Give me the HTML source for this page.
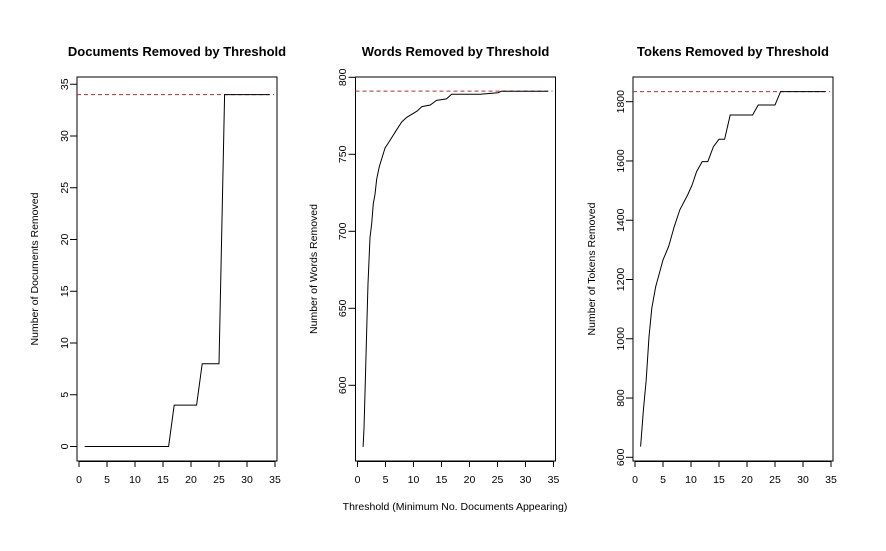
<!DOCTYPE html>
<html><head><meta charset="utf-8"><style>
body{margin:0;background:#fff}
svg{display:block;font-family:"Liberation Sans",Arial,sans-serif}
</style></head><body>
<svg id="c" width="886" height="551" xmlns="http://www.w3.org/2000/svg"></svg>
<script>
// Panel 1: documents removed
const docX = [1,2,3,4,5,6,7,8,9,10,11,12,13,14,15,16,17,18,19,20,21,22,23,24,25,26,27,28,29,30,31,32,33,34];
const docY = [0,0,0,0,0,0,0,0,0,0,0,0,0,0,0,0,4,4,4,4,4,8,8,8,8,34,34,34,34,34,34,34,34,34];
const docMax = 34;
const docTicks = [0,5,10,15,20,25,30,35];
// Panel 2: words removed
const wordX = [1,1.16,1.34,1.52,1.7,1.88,2.05,2.23,2.53,2.83,3.13,3.42,3.9,4.32,4.91,5.8,7,7.9,8.8,10.6,11.5,13,14.1,15.9,16.8,21.3,21.9,25.1,25.7,34];
const wordY = [560,572,595,619,643,666,681,696,705,718,724,734,742,747,754,759,766,771,774,778,781,782,785,786,789,789,789,790,791,791];
const wordMax = 791;
const wordTicks = [600,650,700,750,800];
// Panel 3: tokens removed
const tokX = [1,1.5,2,2.5,3,3.7,4.2,5,6,7,8,9.4,10.2,11,12,13,14,15,16,17,21,22,25,26,34];
const tokY = [636,760,861,1007,1103,1176,1210,1266,1311,1378,1435,1485,1519,1564,1598,1598,1648,1673,1673,1755,1755,1789,1789,1834,1834];
const tokMax = 1834;
const tokTicks = [600,800,1000,1200,1400,1600,1800];
const xTicks = [0,5,10,15,20,25,30,35];

const svg = document.getElementById('c');
const NS = 'http://www.w3.org/2000/svg';
function mk(tag, attrs, parent){const e=document.createElementNS(NS,tag);for(const k in attrs)e.setAttribute(k,attrs[k]);(parent||svg).appendChild(e);return e;}

const TOP=77, BOT=461;
const panels = [
 {key:'documents', left:77, xs:docX, ys:docY, max:docMax, ticks:docTicks, ymin:-1.4, ymax:35.7, title:'Documents Removed by Threshold', ylab:'Number of Documents Removed', ylabX:34, tickLabX:64},
 {key:'words', left:355.5, xs:wordX, ys:wordY, max:wordMax, ticks:wordTicks, ymin:800-(461-77.3)/77*50, ymax:800+0.3/77*50, title:'Words Removed by Threshold', ylab:'Number of Words Removed', ylabX:313, tickLabX:342},
 {key:'tokens', left:633, xs:tokX, ys:tokY, max:tokMax, ticks:tokTicks, ymin:600-(461-457.3)/0.2963, ymax:1800+(101.7-77)/0.2963, title:'Tokens Removed by Threshold', ylab:'Number of Tokens Removed', ylabX:591, tickLabX:620}
];

panels.forEach(p=>{
  const g = mk('g',{});
  
  
  const xS = v => p.left + 2 + v*5.6;
  const yS = v => BOT - (v - p.ymin)/(p.ymax - p.ymin)*(BOT-TOP);
  const box = mk('rect',{x:p.left,y:TOP,width:200,height:BOT-TOP,fill:'none',stroke:'#000','stroke-width':1},g);
  
  
  const t = mk('text',{x:p.left+100,y:56,'text-anchor':'middle','font-size':'13','font-weight':'bold'},g);
  t.textContent = p.title;
  
  
  xTicks.forEach(v=>{
    mk('line',{x1:xS(v),x2:xS(v),y1:BOT,y2:BOT+6,stroke:'#000'},g);
    const l = mk('text',{x:xS(v),y:483,'text-anchor':'middle','font-size':'10.5'},g);
    l.textContent = v;
    
    
  });
  mk('line',{x1:xS(0),x2:xS(35),y1:BOT+0.5,y2:BOT+0.5,stroke:'#000'},g);
  p.ticks.forEach(v=>{
    mk('line',{x1:p.left-7,x2:p.left,y1:yS(v),y2:yS(v),stroke:'#000'},g);
    const l = mk('text',{x:p.tickLabX+4,y:yS(v),'text-anchor':'middle','font-size':'10.5',transform:`rotate(-90 ${p.tickLabX+4} ${yS(v)})`},g);
    l.textContent = v;
    
    
  });
  const yl = mk('text',{x:p.ylabX+4,y:269,'text-anchor':'middle','font-size':'10.5',transform:`rotate(-90 ${p.ylabX+4} 269)`},g);
  yl.textContent = p.ylab;
  
  
  const dl = mk('line',{x1:p.left,x2:p.left+197,y1:yS(p.max),y2:yS(p.max),stroke:'#a33','stroke-dasharray':'4,3','stroke-width':1},g);
  
  
  const pts = p.xs.map((x,i)=>xS(x).toFixed(1)+','+yS(p.ys[i]).toFixed(1)).join(' ');
  const pl = mk('polyline',{points:pts,fill:'none',stroke:'#000','stroke-width':1},g);
  
  
});
const xl = mk('text',{x:455,y:510,'text-anchor':'middle','font-size':'10.5'});
xl.textContent = 'Threshold (Minimum No. Documents Appearing)';


</script>
</body></html>
